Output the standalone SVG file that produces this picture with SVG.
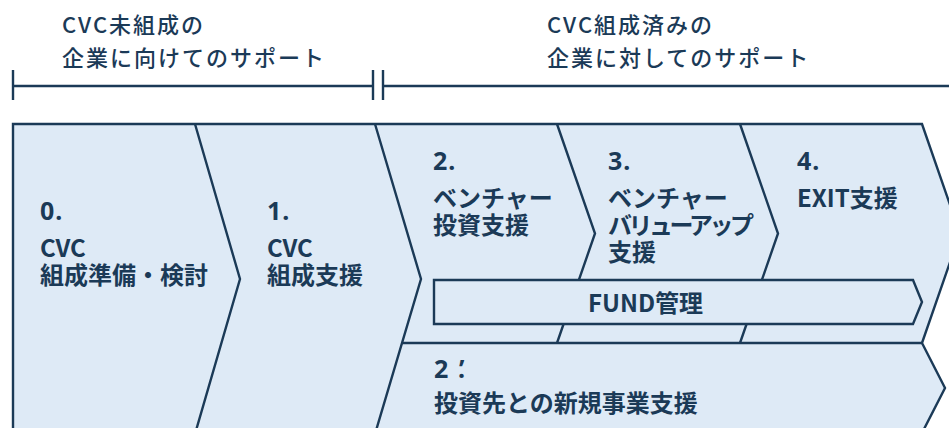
<svg xmlns="http://www.w3.org/2000/svg" width="949" height="428" viewBox="0 0 949 428">
<style>
.ln{fill:none;stroke:#1b3a57;stroke-width:2.4;stroke-linejoin:miter}
.shape{fill:#deeaf6;stroke:#1b3a57;stroke-width:2.4}
.hd{font-family:"Noto Sans CJK JP","Noto Sans",sans-serif;font-size:22px;font-weight:500;letter-spacing:2px;fill:#1b3a57}
.t{font-family:"Noto Sans CJK JP","Noto Sans",sans-serif;font-size:24px;font-weight:bold;fill:#1b3a57}
.n{font-family:"Noto Sans","Noto Sans CJK JP",sans-serif;font-size:25px;font-weight:bold;fill:#1b3a57;letter-spacing:1px}
</style>
<rect width="949" height="428" fill="#ffffff"/>
<g id="timeline">
<path class="ln" d="M13,70V100M13,86H373M373,70V100M383,70V100M383,86H949"/>
<text class="hd" x="62" y="33">CVC未組成の<tspan x="62" dy="33">企業に向けてのサポート</tspan></text>
<text class="hd" x="547" y="33">CVC組成済みの<tspan x="547" dy="33">企業に対してのサポート</tspan></text>
</g>
<g id="panel">
<path class="shape" d="M13,124H922L960,233.5L922,343L945,388L922,433H13Z"/>
</g>
<g id="connectors">
<path class="ln" d="M195,124L240,279L195,434"/>
<path class="ln" d="M375,124L421,279L375,434"/>
<path class="ln" d="M557,124L595,233.5L557,343"/>
<path class="ln" d="M740,124L778,233.5L740,343"/>
<path class="ln" d="M402,343H922"/>
</g>
<g id="node0">
<text class="n" x="40" y="220">0.</text>
<text class="t" x="40" y="257">CVC<tspan x="40" dy="27">組成準備・検討</tspan></text>
</g>
<g id="node1">
<text class="n" x="267" y="220">1.</text>
<text class="t" x="267" y="257">CVC<tspan x="267" dy="27">組成支援</tspan></text>
</g>
<g id="node2">
<text class="n" x="433" y="170">2.</text>
<text class="t" x="433" y="207">ベンチャー<tspan x="433" dy="27">投資支援</tspan></text>
</g>
<g id="node3">
<text class="n" x="608" y="170">3.</text>
<text class="t" x="608" y="207">ベンチャー<tspan x="608" dy="27" letter-spacing="-3.5">バリューアップ</tspan><tspan x="608" dy="27">支援</tspan></text>
</g>
<g id="node4">
<text class="n" x="797" y="170">4.</text>
<text class="t" x="797" y="207">EXIT支援</text>
</g>
<g id="fund">
<path class="shape" d="M434,280H913L922,302L913,324H434Z"/>
<text class="t" x="588" y="312">FUND管理</text>
</g>
<g id="node2b">
<text class="n" x="434" y="378">2<tspan x="459">’</tspan><tspan x="458">.</tspan></text>
<text class="t" x="434" y="412">投資先との新規事業支援</text>
</g>
</svg>
